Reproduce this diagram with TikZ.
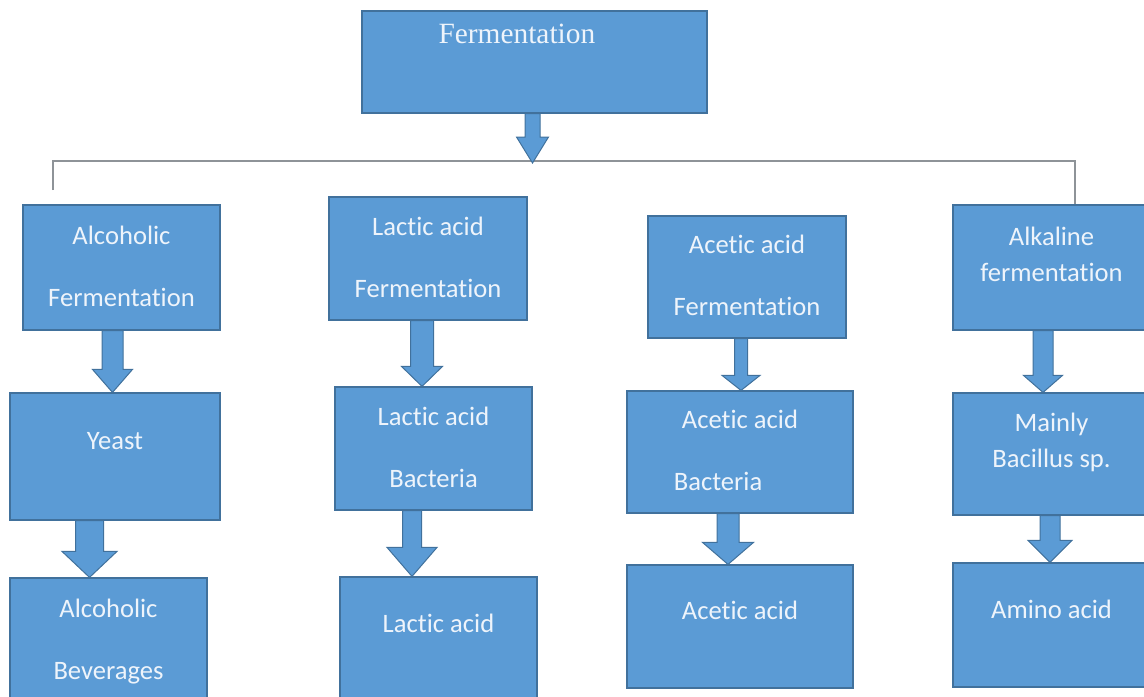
\documentclass[tikz,border=0pt]{standalone}
\usepackage{fontspec}
\setmainfont{Carlito}[Ligatures=NoCommon]
\newfontfamily\titlefont{Liberation Serif}
\usepackage{tikz}
\usetikzlibrary{calc}

\definecolor{boxfill}{HTML}{5B9BD5}
\definecolor{boxedge}{HTML}{41719C}
\definecolor{boxtext}{HTML}{EEF4FB}
\definecolor{linegray}{HTML}{8E9398}

\tikzset{
  box/.style={draw=boxedge, fill=boxfill, text=boxtext, line width=0.6pt,
    inner sep=0pt, align=center, font=\fontsize{13.3}{31}\selectfont,
    text height=40.5pt, text depth=2pt},
  oneline/.style={text height=9pt, text depth=16pt},
  tight/.style={font=\fontsize{13.3}{18}\selectfont, text height=27.5pt, text depth=14pt},
  boxsize/.style 2 args={minimum width=#1*0.5pt, minimum height=#2*0.5pt},
  arrowbody/.style={draw=boxedge, fill=boxfill, line width=0.5pt, line join=miter},
  branch/.style={draw=linegray, line width=0.75pt}
}

% block arrow: source, target, x, half shaft, half head, head length
\newcommand{\blockarrow}[6]{%
  \path[arrowbody] let \p1=(#1), \p2=(#2) in
    ({(#3-#4)*0.5pt},\y1) -- ({(#3+#4)*0.5pt},\y1)
    -- ({(#3+#4)*0.5pt},\y2+#6*0.5pt) -- ({(#3+#5)*0.5pt},\y2+#6*0.5pt)
    -- ({#3*0.5pt},\y2) -- ({(#3-#5)*0.5pt},\y2+#6*0.5pt)
    -- ({(#3-#4)*0.5pt},\y2+#6*0.5pt) -- cycle;}

\begin{document}
\begin{tikzpicture}[x=0.5pt, y=-0.5pt]
  \useasboundingbox (0,0) rectangle (1144,696);

  % top
  \node[box, boxsize={345}{102}, font=\titlefont\fontsize{14.7}{17}\selectfont,
    align=left, text width=96pt, inner xsep=38pt, text height=10pt, text depth=29pt]
    (ferm) at (534.5,62) {Fermentation};

  % alcoholic
  \node[box, boxsize={197}{125}] (alc) at (121.5,267.5) {Alcoholic\\Fermentation};
  \node[box, oneline, boxsize={210}{127}] (yeast) at (115,456.5) {Yeast};
  \node[box, boxsize={197}{125}] (bev) at (108.5,640.5) {Alcoholic\\Beverages};

  % lactic acid
  \node[box, boxsize={198}{123}] (lac) at (428,258.5) {Lactic acid\\Fermentation};
  \node[box, boxsize={197}{123}] (lab) at (433.5,448.5) {Lactic acid\\Bacteria};
  \node[box, oneline, boxsize={197}{125}] (lacid) at (438.5,639.5) {Lactic acid};

  % acetic acid
  \node[box, boxsize={198}{122}] (ace) at (747,277) {Acetic acid\\Fermentation};
  \node[box, boxsize={226}{122}] (aab) at (740,452) {Acetic acid\\Bacteria\hspace*{22pt}};
  \node[box, oneline, boxsize={226}{123}] (aacid) at (740,626.5) {Acetic acid};

  % alkaline
  \node[box, tight, boxsize={197}{125}] (alk) at (1051.5,267.5) {Alkaline\\fermentation};
  \node[box, tight, boxsize={197}{122}] (bac) at (1051.5,454) {Mainly\\Bacillus sp.};
  \node[box, oneline, boxsize={197}{124}] (amino) at (1051.5,625) {Amino acid};

  % branch line
  \coordinate (hub) at (532.5,163);
  \coordinate (leftend) at (53,190);
  \coordinate (rightend) at (1075,161);
  \draw[branch] (leftend) |- (rightend) -- (rightend |- alk.north);

  \foreach \src/\dst/\ax/\sw/\hw/\hl in {
      ferm.south/hub/532.5/7.5/16/26,
      alc.south/yeast.north/112.5/10.5/20/23,
      yeast.south/bev.north/89.5/14/27.5/26,
      lac.south/lab.north/422/11.5/20.5/20,
      lab.south/lacid.north/412/9.5/25/29,
      ace.south/aab.north/741/6.5/19/15,
      aab.south/aacid.north/728/11/25.5/22,
      alk.south/bac.north/1043/10/19.5/17,
      bac.south/amino.north/1050/10/22/22}
    \blockarrow{\src}{\dst}{\ax}{\sw}{\hw}{\hl};
\end{tikzpicture}
\end{document}
